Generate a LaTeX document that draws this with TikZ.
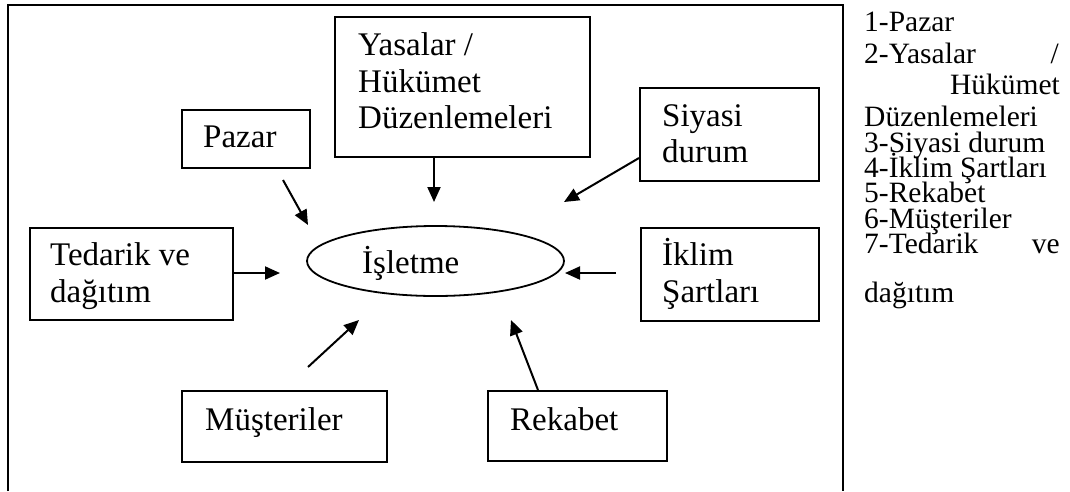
\documentclass[tikz,border=0pt]{standalone}
\usepackage{fontspec}
\setmainfont{Liberation Serif}
\usetikzlibrary{arrows.meta,shapes.geometric}
\begin{document}
\begin{tikzpicture}[x=1pt,y=-1pt,
  box/.style={draw,line width=1.8pt,inner sep=0pt,anchor=north west},
  btxt/.style={anchor=base west,inner sep=0pt,font=\fontsize{33}{36}\selectfont},
  rtxt/.style={anchor=base west,inner sep=0pt,font=\fontsize{29.5}{32}\selectfont},
  rtxtE/.style={anchor=base east,inner sep=0pt,font=\fontsize{29.5}{32}\selectfont},
  arr/.style={line width=2pt,-{Triangle[length=15pt,width=13pt]}}]
\useasboundingbox (0,0) rectangle (1070,491);
% outer frame (open at the bottom)
\draw[line width=1.6pt] (8,491) -- (8,5) -- (843,5) -- (843,491);
% boxes
\node[box,minimum width=255,minimum height=140] (yas) at (334,16) {};
\node[box,minimum width=128,minimum height=58] (paz) at (181,109) {};
\node[box,minimum width=179,minimum height=93] (siy) at (639,87) {};
\node[box,minimum width=203,minimum height=92] (ted) at (29,227) {};
\node[box,minimum width=178,minimum height=93] (ikl) at (640,227) {};
\node[box,minimum width=205,minimum height=71] (mus) at (181,390) {};
\node[box,minimum width=179,minimum height=70] (rek) at (487,390) {};
\node[draw,line width=1.8pt,ellipse,minimum width=257,minimum height=70,inner sep=0pt] (isl) at (435.5,261) {};
% box texts
\node[btxt] (yas1) at (358,55) {Yasalar /};
\node[btxt] (yas2) at (358,92) {Hükümet};
\node[btxt] (yas3) at (358,128) {Düzenlemeleri};
\node[btxt] (pazT) at (203,147) {Pazar};
\node[btxt] (siy1) at (662,126) {Siyasi};
\node[btxt] (siy2) at (662,162) {durum};
\node[btxt] (ted1) at (50,265) {Tedarik ve};
\node[btxt] (ted2) at (50,302) {dağıtım};
\node[btxt] (ikl1) at (662,265) {İklim};
\node[btxt] (ikl2) at (662,302) {Şartları};
\node[btxt] (musT) at (205,430) {Müşteriler};
\node[btxt] (rekT) at (510,430) {Rekabet};
\node[btxt] (islT) at (362,273) {İşletme};
% arrow ends
\coordinate (yasE) at (434,202);
\coordinate (pazS) at (283,180);
\coordinate (pazE) at (308,225);
\coordinate (siyE) at (564,202);
\coordinate (tedE) at (280,273);
\coordinate (iklS) at (616,273);
\coordinate (iklE) at (565,273);
\coordinate (musS) at (308,367);
\coordinate (musE) at (359,320);
\coordinate (rekE) at (511,320);
% arrows
\draw[arr] (yas.south -| yasE) -- (yasE);
\draw[arr] (pazS) -- (pazE);
\draw[arr] (siy.west |- 0,158) -- (siyE);
\draw[arr] (ted.east |- tedE) -- (tedE);
\draw[arr] (iklS) -- (iklE);
\draw[arr] (musS) -- (musE);
\draw[arr] (rek.north -| 538,0) -- (rekE);
% right legend
\node[rtxt] (l1) at (864,31) {1-Pazar};
\node[rtxt] (l2) at (864,63) {2-Yasalar};
\node[rtxtE] (l2b) at (1059,63) {/};
\node[rtxtE] (l3) at (1060,94) {Hükümet};
\node[rtxt] (l4) at (864,126) {Düzenlemeleri};
\node[rtxt] (l5) at (864,152) {3-Siyasi durum};
\node[rtxt] (l6) at (864,177) {4-İklim Şartları};
\node[rtxt] (l7) at (864,202) {5-Rekabet};
\node[rtxt] (l8) at (864,228) {6-Müşteriler};
\node[rtxt] (l9) at (864,253) {7-Tedarik};
\node[rtxtE] (l9b) at (1060,253) {ve};
\node[rtxt] (l10) at (864,302) {dağıtım};
\end{tikzpicture}
\end{document}
